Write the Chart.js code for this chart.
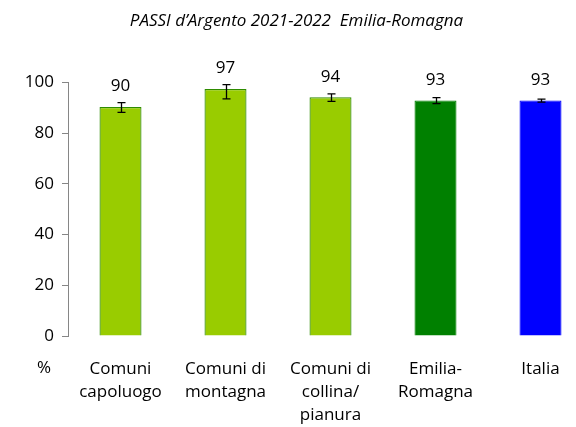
<!DOCTYPE html>
<html lang="it">
<head>
  <meta charset="UTF-8">
  <title>PASSI d’Argento 2021-2022 Emilia-Romagna</title>
  <script src="https://cdn.jsdelivr.net/npm/chart.js"></script>
  <style>
    body {
      margin: 0;
      overflow: hidden;
      background: #fff;
    }

    #wrap {
      width: 600px;
      height: 427px;
    }
  </style>
</head>
<body>

  <div id="wrap"><canvas id="barChart"></canvas></div>

  <script>
    const categories = [
      ['Comuni', 'capoluogo'],
      ['Comuni di', 'montagna'],
      ['Comuni di', 'collina/', 'pianura'],
      ['Emilia-', 'Romagna'],
      'Italia'
    ];
    const values = [90.3, 97.4, 94.1, 92.9, 92.9];
    const lowerCI = [88.2, 93.5, 92.5, 91.6, 92.2];
    const upperCI = [92.0, 99.1, 95.5, 94.0, 93.4];
    const yTicks = [0, 20, 40, 60, 80, 100];

    const FONT = '"Open Sans", sans-serif';

    // barre di errore, etichette dei valori e simbolo %
    const extras = {
      id: 'extras',
      afterDatasetsDraw(chart) {
        const ctx = chart.ctx;
        const yScale = chart.scales.y;
        const xScale = chart.scales.x;
        const bars = chart.getDatasetMeta(0).data;
        ctx.save();
        ctx.strokeStyle = '#000';
        ctx.lineWidth = 1.3;
        bars.forEach((bar, i) => {
          const x = Math.round(bar.x) + 0.5;
          const yLo = yScale.getPixelForValue(lowerCI[i]);
          const yHi = yScale.getPixelForValue(upperCI[i]);
          ctx.beginPath();
          ctx.moveTo(x, yLo); ctx.lineTo(x, yHi);
          ctx.moveTo(x - 4, yLo); ctx.lineTo(x + 4, yLo);
          ctx.moveTo(x - 4, yHi); ctx.lineTo(x + 4, yHi);
          ctx.stroke();
        });
        ctx.fillStyle = '#000';
        ctx.font = '17px ' + FONT;
        ctx.textAlign = 'center';
        ctx.textBaseline = 'bottom';
        bars.forEach((bar, i) => {
          ctx.fillText(Math.round(values[i]), bar.x, bar.y - 12);
        });
        ctx.textBaseline = 'top';
        ctx.fillText('%', chart.chartArea.left - 24, xScale.top + 24);
        ctx.restore();
      }
    };

    new Chart(document.getElementById('barChart'), {
      type: 'bar',
      data: {
        labels: categories,
        datasets: [{
          data: values,
          backgroundColor: ['#99CC00', '#99CC00', '#99CC00', '#008000', '#0000FF'],
          borderColor: ['#2E8B00', '#2E8B00', '#2E8B00', '#008000', '#0000FF'],
          borderWidth: 1.2,
          barPercentage: 0.8,
          categoryPercentage: 0.5
        }]
      },
      options: {
        responsive: true,
        maintainAspectRatio: false,
        animation: false,
        layout: { padding: { left: 0, right: 7, top: 0, bottom: 0 } },
        plugins: {
          legend: { display: false },
          tooltip: { enabled: false },
          title: {
            display: true,
            text: 'PASSI d’Argento 2021-2022  Emilia-Romagna',
            color: '#000',
            font: { family: FONT, size: 17, style: 'italic', weight: 'normal' },
            padding: { top: 11, bottom: 51 },
            align: 'center'
          }
        },
        scales: {
          x: {
            grid: { display: false },
            border: { display: false },
            ticks: {
              color: '#000',
              font: { family: FONT, size: 17, lineHeight: 1.38 },
              padding: 13,
              maxRotation: 0,
              autoSkip: false
            },
            afterFit(scale) { scale.height = 91; }
          },
          y: {
            min: 0,
            max: 100,
            afterBuildTicks(scale) { scale.ticks = yTicks.map(v => ({ value: v })); },
            grid: { drawOnChartArea: false, drawTicks: true, tickLength: 6, color: '#868686' },
            border: { display: true, color: '#868686', width: 1 },
            ticks: {
              color: '#000',
              font: { family: FONT, size: 17 },
              padding: 8
            },
            afterFit(scale) { scale.width = 68; }
          }
        }
      },
      plugins: [extras]
    });
  </script>

</body>
</html>
